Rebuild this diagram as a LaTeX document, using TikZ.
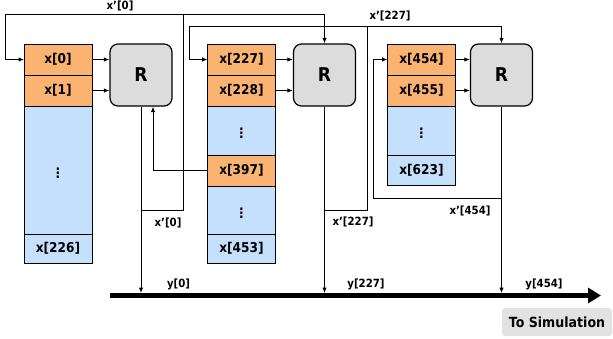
\documentclass[tikz,border=0pt]{standalone}
\usepackage{fontspec}
\setmainfont[FakeStretch=0.9]{DejaVu Sans}
\usetikzlibrary{arrows.meta,positioning}
\definecolor{CellOrange}{HTML}{FAB370}
\definecolor{CellBlue}{HTML}{C4E0FD}
\definecolor{RegGray}{HTML}{DCDCDC}
\definecolor{TagGray}{HTML}{E2E2E2}

\begin{document}
\begin{tikzpicture}[x=1pt,y=-1pt,node distance=0pt,>={Latex[length=5.5pt,width=4.5pt]}]
    \tikzset{c/.style={draw,line width=1pt,outer sep=0pt,inner sep=0pt,minimum width=68pt,
      font=\bfseries\fontsize{13.5}{15}\selectfont},
      o/.style={c,fill=CellOrange,minimum height=31pt},
      b/.style={c,fill=CellBlue},
      r/.style={draw,line width=1.2pt,fill=RegGray,rounded corners=8pt,minimum width=62pt,
      minimum height=62pt,font=\bfseries\fontsize{19}{21}\selectfont},
      l/.style={inner sep=0pt,font=\bfseries\fontsize{11.3}{13}\selectfont},
      w/.style={line width=1pt}}
    \useasboundingbox (0,0) rectangle (613,338);
    \node[o] (a0) at (58,59.5) {x[0]};
    \node[o,below=of a0] (a1) {x[1]};
    \node[b,minimum height=128pt,below=of a1] (ad) {$\vdots$};
    \node[b,minimum height=29pt,below=of ad] (a226) {x[226]};
    \node[o] (b227) at (241.5,59.5) {x[227]};
    \node[o,below=of b227] (b228) {x[228]};
    \node[b,minimum height=49pt,below=of b228] (bd1) {$\vdots$};
    \node[o,below=of bd1] (b397) {x[397]};
    \node[b,minimum height=48pt,below=of b397] (bd2) {$\vdots$};
    \node[b,minimum height=29pt,below=of bd2] (b453) {x[453]};
    \node[o] (c454) at (421.5,59.5) {x[454]};
    \node[o,below=of c454] (c455) {x[455]};
    \node[b,minimum height=49pt,below=of c455] (cd) {$\vdots$};
    \node[b,minimum height=30pt,below=of cd] (c623) {x[623]};
    \node[r] (r1) at (141,75) {R};
    \node[r] (r2) at (324.5,75) {R};
    \node[r] (r3) at (501.5,75) {R};
    \foreach \src/\dst in {a0/r1,a1/r1,b227/r2,b228/r2,c454/r3,c455/r3}
      \draw[w,->] (\src.east) -- (\src.east -| \dst.west);
    \coordinate (busL) at (110,295.5);
    \coordinate (busT) at (110,293);
    \coordinate (busR) at (601,295.5);
    \draw[line width=5pt,-{Triangle[length=13pt,width=15pt]}] (busL) -- (busR);
    \foreach \n in {r1,r2,r3}
      \draw[w,->] (\n.south) -- (\n.south |- busT);
    \coordinate (f1) at (183,210);
    \coordinate (t1) at (5,14);
    \draw[w,->] (r1.south |- f1) -- (f1) |- (t1) |- (a0.west);
    \draw[w,->] (f1 |- t1) -| (r2.north);
    \coordinate (f2) at (367,210);
    \coordinate (t2) at (189,26);
    \draw[w,->] (r2.south |- f2) -- (f2) |- (t2) |- (b227.west);
    \draw[w,->] (f2 |- t2) -| (r3.north);
    \coordinate (f3) at (373,198);
    \draw[w,->] (r3.south |- f3) -- (f3) |- (c454.west);
    \draw[w,->] (b397.west) -| ([xshift=12pt]r1.south);
    \node[l] (x0top) at (120,6) {x’[0]};
    \node[l] (x0bot) at (168,223) {x’[0]};
    \node[l] (x227top) at (390,16) {x’[227]};
    \node[l] (x227bot) at (353,222) {x’[227]};
    \node[l] (x454bot) at (470,211) {x’[454]};
    \node[l] (y0) at (178.5,284) {y[0]};
    \node[l] (y227) at (366,284) {y[227]};
    \node[l] (y454) at (544,284) {y[454]};
    \node[fill=TagGray,rounded corners=3pt,minimum width=110pt,minimum height=28pt,
      font=\bfseries\fontsize{14}{16}\selectfont] (sim) at (557,322) {To Simulation};
  \end{tikzpicture}
\end{document}
